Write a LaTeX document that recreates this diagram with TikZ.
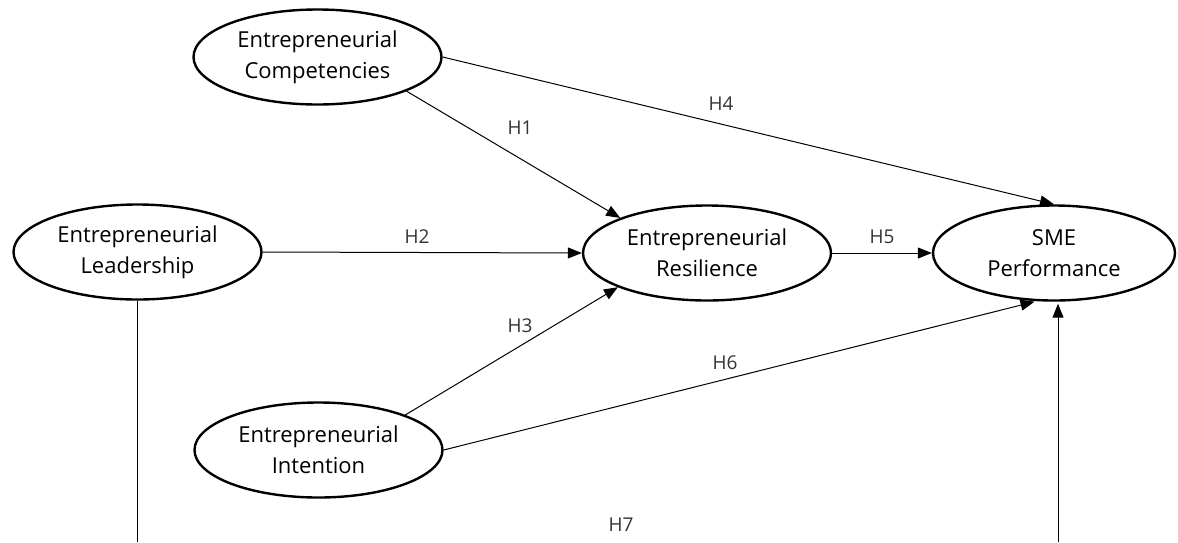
\documentclass[tikz,border=0pt]{standalone}
\usepackage{fontspec}
\setmainfont{Open Sans}
\usetikzlibrary{shapes.geometric, arrows.meta}

\tikzset{
  construct/.style={draw, ellipse, line width=2.4pt, minimum width=248pt, minimum height=95pt,
    inner sep=0pt, align=center, font=\fontsize{22}{31}\selectfont},
  link/.style={line width=1pt, -{Triangle[length=14pt,width=11pt]}},
  hyp/.style={font=\fontsize{19}{22}\selectfont, text=black!80}
}

\begin{document}
\begin{tikzpicture}[x=1pt, y=-1pt]
    \useasboundingbox (0,0) rectangle (1178,542);
    % constructs
    \node[construct] (comp) at (317.5,57) {Entrepreneurial\\Competencies};
    \node[construct] (lead) at (137.5,252) {Entrepreneurial\\Leadership};
    \node[construct] (res) at (707,253) {Entrepreneurial\\Resilience};
    \node[construct, minimum width=242pt] (sme) at (1054,253) {SME\\Performance};
    \node[construct] (intent) at (318.5,450) {Entrepreneurial\\Intention};
    % paths
    \draw[link] (comp.-21.6) -- (res.158.6);
    \draw[link] (lead.east) -- (res.west);
    \draw[link] (intent.22) -- (res.201.4);
    \draw[link] (comp.0) -- (sme.north);
    \draw[link] (res.east) -- (sme.west);
    \draw[link, shorten >=2pt] (intent.east) -- (sme.250);
    \coordinate (b1) at (0,542);
    \coordinate (b2) at (1058,542);
    \draw[line width=1pt] (lead.south) -- (lead.south |- b1);
    \draw[link, shorten >=2pt] (b2) -- (b2 |- sme.south);
    % hypotheses
    \node[hyp] (h1) at (520,128) {H1};
    \node[hyp] (h2) at (417,237) {H2};
    \node[hyp] (h3) at (520,326) {H3};
    \node[hyp] (h4) at (721,104) {H4};
    \node[hyp] (h5) at (882,237) {H5};
    \node[hyp] (h6) at (725,363) {H6};
    \node[hyp] (h7) at (621,525) {H7};
\end{tikzpicture}
\end{document}
